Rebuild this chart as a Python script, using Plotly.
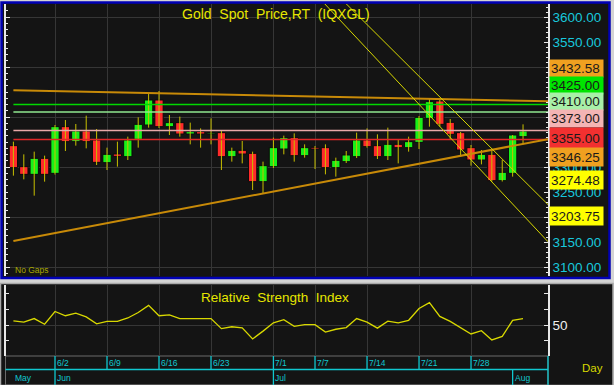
import plotly.graph_objects as go

W, H = 614, 385

# ---------------- data ----------------
dates = ["5/27", "5/28", "5/29", "5/30",
         "6/2", "6/3", "6/4", "6/5", "6/6", "6/9", "6/10", "6/11", "6/12", "6/13",
         "6/16", "6/17", "6/18", "6/19", "6/20", "6/23", "6/24", "6/25", "6/26", "6/27", "6/30",
         "7/1", "7/2", "7/3", "7/4", "7/7", "7/8", "7/9", "7/10", "7/11", "7/14", "7/15",
         "7/16", "7/17", "7/18", "7/21", "7/22", "7/23", "7/24", "7/25", "7/28", "7/29",
         "7/30", "7/31", "8/1", "8/4"]

opens = [3342.7, 3300.7, 3285.3, 3317.3, 3287.3, 3380.7, 3350.7, 3372.0, 3354.0, 3308.7,
         3326.0, 3320.7, 3355.3, 3384.0, 3434.0, 3380.7, 3388.7, 3366.0, 3370.7, 3366.0,
         3368.7, 3320.7, 3333.3, 3327.3, 3270.7, 3300.7, 3336.0, 3358.7, 3322.7, 3339.3,
         3338.7, 3298.7, 3310.7, 3320.7, 3354.0, 3342.7, 3320.7, 3345.3, 3338.7, 3349.3,
         3397.3, 3432.0, 3389.3, 3368.7, 3338.7, 3314.0, 3325.3, 3272.7, 3287.3, 3360.7]
highs = [3350.7, 3325.3, 3330.7, 3322.7, 3384.0, 3394.0, 3386.0, 3402.7, 3376.0, 3338.7,
         3350.7, 3360.7, 3399.3, 3447.3, 3452.0, 3404.0, 3400.7, 3388.7, 3377.3, 3397.3,
         3372.0, 3338.7, 3352.0, 3330.7, 3310.7, 3358.7, 3362.7, 3367.3, 3345.3, 3342.0,
         3345.3, 3318.7, 3332.0, 3368.7, 3377.3, 3365.3, 3378.7, 3354.0, 3360.7, 3402.0,
         3436.0, 3438.0, 3396.0, 3370.0, 3344.0, 3334.0, 3334.0, 3314.0, 3364.0, 3385.3]
lows = [3282.7, 3275.3, 3242.7, 3270.7, 3285.0, 3332.0, 3342.7, 3337.3, 3304.0, 3294.0,
        3300.7, 3314.0, 3338.7, 3378.7, 3378.0, 3364.0, 3360.7, 3345.3, 3338.7, 3345.3,
        3294.0, 3310.7, 3307.3, 3254.0, 3247.3, 3298.0, 3325.3, 3310.7, 3318.7, 3296.0,
        3285.3, 3280.7, 3308.0, 3318.0, 3338.7, 3316.0, 3314.0, 3307.3, 3330.7, 3336.0,
        3380.7, 3380.7, 3354.0, 3320.7, 3302.7, 3305.3, 3270.7, 3271.0, 3280.7, 3345.3]
closes = [3298.7, 3285.3, 3317.3, 3285.3, 3380.7, 3350.7, 3372.0, 3350.7, 3309.3, 3325.3,
          3321.3, 3354.0, 3385.3, 3434.0, 3380.7, 3388.7, 3366.0, 3370.7, 3366.0, 3368.0,
          3320.7, 3333.3, 3326.0, 3270.7, 3302.7, 3338.7, 3358.7, 3322.7, 3338.7, 3336.0,
          3298.7, 3313.3, 3324.0, 3354.0, 3340.7, 3320.7, 3345.3, 3338.7, 3350.7, 3399.3,
          3430.7, 3385.3, 3365.3, 3334.0, 3314.0, 3325.3, 3272.7, 3289.3, 3364.0, 3372.0]

rsi = [52.7, 51.8, 54.1, 50.5, 58.6, 55.9, 57.5, 55.2, 50.7, 52.3,
       52.3, 54.5, 58.0, 62.5, 55.9, 56.4, 54.1, 54.1, 54.1, 54.1,
       47.7, 48.9, 48.2, 41.1, 46.1, 51.4, 53.4, 49.1, 50.2, 50.2,
       45.5, 47.3, 48.4, 54.1, 51.8, 48.0, 52.5, 51.4, 53.0, 60.5,
       64.3, 55.5, 52.3, 48.4, 44.3, 46.4, 40.5, 42.7, 53.0, 54.1]

week_labels = ["6/2", "6/9", "6/16", "6/23", "7/1", "7/7", "7/14", "7/21", "7/28"]
month_labels = ["May", "Jun", "Jul", "Aug"]
month_starts = ["5/27", "6/2", "7/1", "8/1"]

# horizontal reference levels
level_values = [3425.00, 3410.00, 3373.00, 3355.00]
level_colors = ["#00d800", "#90e890", "#e8a8a8", "#e02828"]

# trend lines: (start day, start value) -> (last day, last value)
resist_days = ["5/27", "8/4"]
resist_vals = [3453.4, 3432.58]
support_days = ["5/27", "8/4"]
support_vals = [3152.0, 3346.25]
chan_up_days = ["7/9", "8/4"]
chan_up_vals = [3647.0, 3274.48]
chan_lo_days = ["7/7", "8/4"]
chan_lo_vals = [3647.0, 3203.75]

# right-axis labels left visible (the others sit behind the value boxes)
price_ticks = [3100, 3150, 3200, 3250, 3300, 3550, 3600]

# ---------------- helpers ----------------
def px(x):
    return x / W


def py(y):
    return 1 - y / H


idx = {d: i for i, d in enumerate(dates)}
xs = list(range(len(dates)))
X_LO, X_HI = -0.76, 51.4
Y_LO, Y_HI = 3083, 3626
FONT = "Liberation Sans, Arial, sans-serif"
UP, DOWN = "#18f018", "#ff2a2a"

fig = go.Figure()

# wicks (drawn first, under bodies)
wx, wy = [], []
for i, (h, l) in enumerate(zip(highs, lows)):
    wx += [i, i, None]
    wy += [l, h, None]
fig.add_trace(go.Scatter(x=wx, y=wy, mode="lines", line=dict(color="#c8c000", width=1),
                         showlegend=False, hoverinfo="skip", xaxis="x", yaxis="y"))
# bodies
fig.add_trace(go.Bar(
    x=xs, base=[min(o, c) for o, c in zip(opens, closes)],
    y=[max(abs(c - o), 1.2) for o, c in zip(opens, closes)],
    width=0.8,
    marker=dict(color=[UP if c >= o else DOWN for o, c in zip(opens, closes)],
                line=dict(color="#0a0a0a", width=1)),
    showlegend=False, hoverinfo="skip", xaxis="x", yaxis="y"))

# horizontal levels (overlay axis, above the candles)
for v, c in zip(level_values, level_colors):
    fig.add_trace(go.Scatter(x=[0, X_HI], y=[v, v], mode="lines",
                             line=dict(color=c, width=1.6), showlegend=False,
                             hoverinfo="skip", xaxis="x", yaxis="y2"))


def trend(days, vals, color, width):
    x0, x1 = idx[days[0]], idx[days[1]]
    slope = (vals[1] - vals[0]) / (x1 - x0)
    xe = X_HI
    fig.add_trace(go.Scatter(x=[x0, x1, xe], y=[vals[0], vals[1], vals[1] + slope * (xe - x1)],
                             mode="lines", line=dict(color=color, width=width),
                             showlegend=False, hoverinfo="skip", xaxis="x", yaxis="y2"))


trend(resist_days, resist_vals, "#c88a08", 2)
trend(support_days, support_vals, "#c88a08", 2)
trend(chan_up_days, chan_up_vals, "#d8d800", 1)
trend(chan_lo_days, chan_lo_vals, "#d8d800", 1)

# RSI
fig.add_trace(go.Scatter(x=xs, y=rsi, mode="lines", line=dict(color="#d8d800", width=1.3),
                         showlegend=False, hoverinfo="skip", xaxis="x2", yaxis="y3"))

grid_x = [idx[d] for d in week_labels]

# ---------------- layout ----------------
main_dom = [py(275.5), py(4)]
rsi_dom = [py(356), py(285)]
xdom = [px(5.5), px(548)]
CYAN = "#10c8d0"

shapes = [
    dict(type="rect", xref="paper", yref="paper", x0=px(1.5), x1=px(609.5), y0=py(278), y1=py(2.5),
         fillcolor="#141414", line=dict(color="#0000b4", width=2.5), layer="below"),
    dict(type="rect", xref="paper", yref="paper", x0=px(0.5), x1=px(613), y0=py(385.5), y1=py(283.5),
         fillcolor="#141414", line=dict(color="#a8a8a8", width=1.5), layer="below"),
    dict(type="rect", xref="paper", yref="paper", x0=px(5.5), x1=px(548), y0=py(385), y1=py(356),
         fillcolor="rgba(0,0,0,0)", line=dict(color="#6a6a6a", width=1), layer="below"),
    dict(type="line", xref="paper", yref="paper", x0=px(5.5), x1=px(548), y0=py(369.5), y1=py(369.5),
         line=dict(color=CYAN, width=1.3)),
    dict(type="line", xref="paper", yref="paper", x0=px(548), x1=px(548), y0=py(356), y1=py(385),
         line=dict(color=CYAN, width=1.3)),
]

annotations = [
    dict(text="Gold  Spot  Price,RT  (IQXGL)", xref="paper", yref="paper", x=px(276), y=py(14),
         xanchor="center", yanchor="middle",
         showarrow=False, font=dict(family=FONT, size=14, color="#e6e600")),
    dict(text="No Gaps", xref="paper", yref="paper", x=px(13), y=py(270), xanchor="left",
         yanchor="middle", showarrow=False, font=dict(family=FONT, size=8.5, color="#a8a800")),
    dict(text="Relative  Strength  Index", xref="paper", yref="paper", x=px(275), y=py(297),
         xanchor="center", yanchor="middle",
         showarrow=False, font=dict(family=FONT, size=13.5, color="#e6e600")),
    dict(text="Day", xref="paper", yref="paper", x=px(592), y=py(368),
         xanchor="center", yanchor="middle",
         showarrow=False, font=dict(family=FONT, size=11.5, color="#d8d800")),
]

for lab in week_labels:
    i = idx[lab]
    shapes.append(dict(type="line", xref="x2", yref="paper", x0=i, x1=i, y0=py(356), y1=py(369.5),
                       line=dict(color=CYAN, width=1.3)))
    annotations.append(dict(text=lab, xref="x2", yref="paper", x=i, y=py(363), xanchor="left",
                            yanchor="middle", xshift=0, showarrow=False,
                            font=dict(family=FONT, size=8.5, color=CYAN)))
for lab, d in zip(month_labels, month_starts):
    i = idx[d]
    first = lab == month_labels[0]
    if not first:
        shapes.append(dict(type="line", xref="x2", yref="paper", x0=i, x1=i, y0=py(369.5), y1=py(385),
                           line=dict(color=CYAN, width=1.3)))
    annotations.append(dict(text=lab, xref="x2", yref="paper", x=X_LO if first else i,
                            y=py(377.5), xanchor="left", yanchor="middle", xshift=7 if first else 0,
                            showarrow=False, font=dict(family=FONT, size=8.5, color=CYAN)))

# right-hand value boxes (values at last bar)
box_vals = [resist_vals[1], level_values[0], level_values[1], level_values[2], level_values[3],
            support_vals[1], chan_up_vals[1], chan_lo_vals[1]]
box_colors = ["#f0a020", "#00e400", "#a8f0a8", "#f4b4b4", "#f23030", "#f0a020", "#ffff00", "#ffff00"]
box_centers = [69, 85.5, 102, 118.5, 137.5, 156.5, 179.5, 216]
box_heights = [15, 15, 15, 15, 18, 16, 16, 16]
for v, c, yc, hh in zip(box_vals, box_colors, box_centers, box_heights):
    annotations.append(dict(text=f"{v:.2f}", xref="paper", yref="paper", x=px(549), y=py(yc),
                            xanchor="left", yanchor="middle", showarrow=False, align="left",
                            width=51, height=hh, borderpad=1, bgcolor=c,
                            font=dict(family=FONT, size=13.5, color="#1a1a1a")))

WHITE = "#e8e8e8"
fig.update_layout(
    width=W, height=H, margin=dict(l=0, r=0, t=0, b=0),
    paper_bgcolor="#d4d4d4", plot_bgcolor="rgba(0,0,0,0)",
    showlegend=False, bargap=0.2,
    shapes=shapes, annotations=annotations,
    xaxis=dict(domain=xdom, range=[X_LO, X_HI], anchor="y", tickvals=grid_x, showticklabels=False,
               showgrid=True, gridcolor="#363636", ticks="", showline=False, zeroline=False,
               fixedrange=True),
    yaxis=dict(domain=main_dom, range=[Y_LO, Y_HI], anchor="x", side="left",
               tick0=3100, dtick=100, showgrid=True, gridcolor="#363636", showticklabels=False,
               ticks="inside", ticklen=5, tickcolor=WHITE, showline=True, linecolor=WHITE,
               linewidth=1.5,
               minor=dict(dtick=12.5, ticks="inside", ticklen=3, tickcolor=WHITE, showgrid=False),
               zeroline=False, fixedrange=True),
    yaxis2=dict(overlaying="y", anchor="x", side="right", range=[Y_LO, Y_HI],
                tickvals=price_ticks, ticktext=[f"{v:.2f}" for v in price_ticks],
                tickfont=dict(family=FONT, size=13.5, color="#18c8dc"),
                ticks="inside", ticklen=4, tickcolor=WHITE, showline=True, linecolor=WHITE,
                linewidth=1.5, showgrid=False,
                minor=dict(dtick=10, ticks="inside", ticklen=2, tickcolor=WHITE, showgrid=False),
                zeroline=False, fixedrange=True),
    xaxis2=dict(domain=xdom, range=[X_LO, X_HI], anchor="y3", tickvals=grid_x, showticklabels=False,
                showgrid=True, gridcolor="#363636", ticks="", showline=False, zeroline=False,
                fixedrange=True),
    yaxis3=dict(domain=rsi_dom, range=[30.25, 75.5], anchor="x2", side="right",
                tickvals=[50], ticktext=["50"], showgrid=True, gridcolor="#363636",
                tickfont=dict(family=FONT, size=13.5, color="#f0f0f0"),
                ticks="inside", ticklen=4, tickcolor=WHITE, showline=True, linecolor=WHITE,
                linewidth=1.5, mirror="ticks",
                minor=dict(tick0=30, dtick=10, ticks="inside", ticklen=4, tickcolor=WHITE,
                           showgrid=False),
                zeroline=False, fixedrange=True),
)

fig.write_html("out.html", config={"displayModeBar": False},
               post_script="document.body.style.margin='0';")
